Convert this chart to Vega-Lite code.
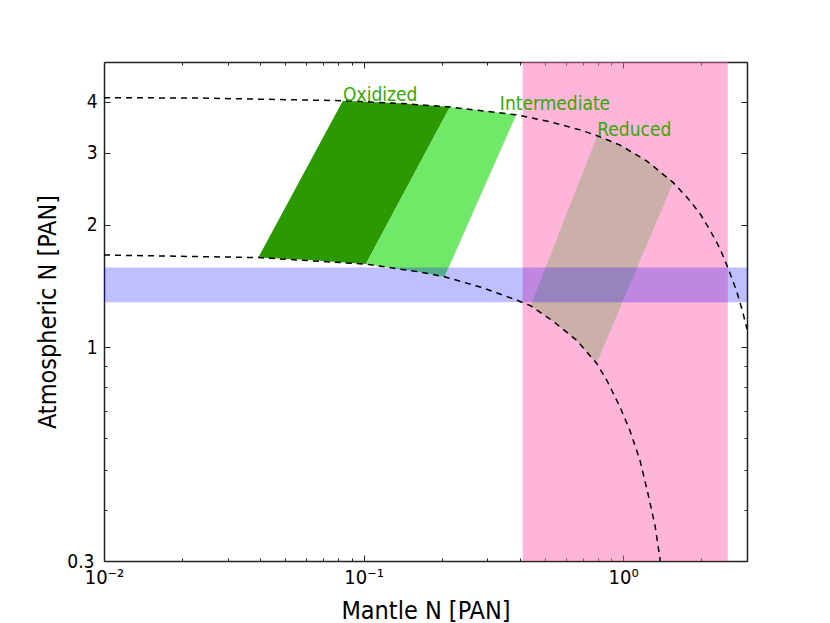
{
  "$schema": "https://vega.github.io/schema/vega-lite/v6.json",
  "autosize": "none",
  "padding": {"left": 104, "top": 62, "right": 83, "bottom": 62},
  "width": 643,
  "height": 499,
  "background": "white",
  "config": {
    "view": {"stroke": null},
    "axis": {
      "grid": false,
      "domainColor": "#222222",
      "domainWidth": 1.5,
      "tickColor": "#222222",
      "tickWidth": 1,
      "labelFont": "DejaVu Sans Condensed",
      "labelColor": "black",
      "labelFlush": false,
      "labelOverlap": false,
      "titleFont": "DejaVu Sans Condensed",
      "titleFontSize": 25,
      "titleFontWeight": "normal",
      "titleColor": "black"
    }
  },
  "datasets": {
    "bands": [
      {"band": "mantle", "x": 0.41, "x2": 2.53},
      {"band": "atmosphere", "y": 1.29, "y2": 1.57}
    ],
    "polys": [
      {"poly": "Oxidized", "i": 1, "x": 0.0393, "y": 1.66},
      {"poly": "Oxidized", "i": 2, "x": 0.0832, "y": 4.02},
      {"poly": "Oxidized", "i": 3, "x": 0.138, "y": 3.96},
      {"poly": "Oxidized", "i": 4, "x": 0.215, "y": 3.88},
      {"poly": "Oxidized", "i": 5, "x": 0.102, "y": 1.6},
      {"poly": "Oxidized", "i": 6, "x": 0.06, "y": 1.64},
      {"poly": "Intermediate", "i": 1, "x": 0.102, "y": 1.6},
      {"poly": "Intermediate", "i": 2, "x": 0.215, "y": 3.88},
      {"poly": "Intermediate", "i": 3, "x": 0.3, "y": 3.79},
      {"poly": "Intermediate", "i": 4, "x": 0.387, "y": 3.71},
      {"poly": "Intermediate", "i": 5, "x": 0.205, "y": 1.49},
      {"poly": "Intermediate", "i": 6, "x": 0.165, "y": 1.53},
      {"poly": "Reduced", "i": 1, "x": 0.44, "y": 1.265},
      {"poly": "Reduced", "i": 2, "x": 0.795, "y": 3.3},
      {"poly": "Reduced", "i": 3, "x": 0.97, "y": 3.13},
      {"poly": "Reduced", "i": 4, "x": 1.234, "y": 2.86},
      {"poly": "Reduced", "i": 5, "x": 1.56, "y": 2.54},
      {"poly": "Reduced", "i": 6, "x": 0.79, "y": 0.915},
      {"poly": "Reduced", "i": 7, "x": 0.663, "y": 1.04},
      {"poly": "Reduced", "i": 8, "x": 0.537, "y": 1.16}
    ],
    "curves": [
      {"curve": "upper", "i": 1, "x": 0.01, "y": 4.09},
      {"curve": "upper", "i": 2, "x": 0.0235, "y": 4.08},
      {"curve": "upper", "i": 3, "x": 0.0834, "y": 4.02},
      {"curve": "upper", "i": 4, "x": 0.138, "y": 3.96},
      {"curve": "upper", "i": 5, "x": 0.215, "y": 3.88},
      {"curve": "upper", "i": 6, "x": 0.39, "y": 3.71},
      {"curve": "upper", "i": 7, "x": 0.522, "y": 3.57},
      {"curve": "upper", "i": 8, "x": 0.683, "y": 3.41},
      {"curve": "upper", "i": 9, "x": 0.793, "y": 3.3},
      {"curve": "upper", "i": 10, "x": 0.973, "y": 3.13},
      {"curve": "upper", "i": 11, "x": 1.234, "y": 2.86},
      {"curve": "upper", "i": 12, "x": 1.553, "y": 2.54},
      {"curve": "upper", "i": 13, "x": 1.774, "y": 2.32},
      {"curve": "upper", "i": 14, "x": 1.974, "y": 2.13},
      {"curve": "upper", "i": 15, "x": 2.158, "y": 1.94},
      {"curve": "upper", "i": 16, "x": 2.357, "y": 1.75},
      {"curve": "upper", "i": 17, "x": 2.53, "y": 1.57},
      {"curve": "upper", "i": 18, "x": 2.74, "y": 1.37},
      {"curve": "upper", "i": 19, "x": 2.88, "y": 1.23},
      {"curve": "upper", "i": 20, "x": 3.0, "y": 1.11},
      {"curve": "lower", "i": 1, "x": 0.01, "y": 1.684},
      {"curve": "lower", "i": 2, "x": 0.0393, "y": 1.66},
      {"curve": "lower", "i": 3, "x": 0.102, "y": 1.6},
      {"curve": "lower", "i": 4, "x": 0.165, "y": 1.53},
      {"curve": "lower", "i": 5, "x": 0.205, "y": 1.49},
      {"curve": "lower", "i": 6, "x": 0.288, "y": 1.4},
      {"curve": "lower", "i": 7, "x": 0.39, "y": 1.305},
      {"curve": "lower", "i": 8, "x": 0.44, "y": 1.265},
      {"curve": "lower", "i": 9, "x": 0.537, "y": 1.16},
      {"curve": "lower", "i": 10, "x": 0.663, "y": 1.04},
      {"curve": "lower", "i": 11, "x": 0.79, "y": 0.915},
      {"curve": "lower", "i": 12, "x": 0.866, "y": 0.83},
      {"curve": "lower", "i": 13, "x": 0.973, "y": 0.714},
      {"curve": "lower", "i": 14, "x": 1.061, "y": 0.627},
      {"curve": "lower", "i": 15, "x": 1.161, "y": 0.529},
      {"curve": "lower", "i": 16, "x": 1.246, "y": 0.439},
      {"curve": "lower", "i": 17, "x": 1.326, "y": 0.367},
      {"curve": "lower", "i": 18, "x": 1.36, "y": 0.33},
      {"curve": "lower", "i": 19, "x": 1.39, "y": 0.3}
    ],
    "labels": [
      {"label": "Oxidized", "x": 0.0834, "y": 4.02},
      {"label": "Intermediate", "x": 0.335, "y": 3.81},
      {"label": "Reduced", "x": 0.795, "y": 3.3}
    ]
  },
  "resolve": {"axis": {"x": "independent", "y": "independent"}},
  "layer": [
    {
      "data": {"name": "bands"},
      "transform": [{"filter": "datum.band == 'mantle'"}],
      "mark": {"type": "rect", "color": "#ff69b4", "opacity": 0.5, "clip": true},
      "encoding": {
        "x": {
          "field": "x", "type": "quantitative",
          "scale": {"type": "log", "domain": [0.01, 3], "nice": false},
          "axis": {
            "orient": "bottom",
            "title": "Mantle N [PAN]",
            "values": [0.01, 0.02, 0.03, 0.04, 0.05, 0.06, 0.07, 0.08, 0.09, 0.1, 0.2, 0.3, 0.4, 0.5, 0.6, 0.7, 0.8, 0.9, 1, 2, 3],
            "labelExpr": "datum.value == 0.01 ? '10⁻²' : datum.value == 0.1 ? '10⁻¹' : datum.value == 1 ? '10⁰' : ''",
            "labelFontSize": 20,
            "tickSize": {"condition": {"test": "datum.value == 0.01 || datum.value == 0.1 || datum.value == 1", "value": -6}, "value": -3},
            "labelPadding": 12,
            "titlePadding": 8
          }
        },
        "x2": {"field": "x2"}
      }
    },
    {
      "data": {"name": "polys"},
      "mark": {"type": "line", "filled": true, "strokeWidth": 0, "clip": true},
      "encoding": {
        "x": {
          "field": "x", "type": "quantitative",
          "axis": {
            "orient": "top", "title": null, "labels": false,
            "values": [0.01, 0.02, 0.03, 0.04, 0.05, 0.06, 0.07, 0.08, 0.09, 0.1, 0.2, 0.3, 0.4, 0.5, 0.6, 0.7, 0.8, 0.9, 1, 2, 3],
            "tickSize": {"condition": {"test": "datum.value == 0.01 || datum.value == 0.1 || datum.value == 1", "value": -6}, "value": -3}
          }
        },
        "y": {
          "field": "y", "type": "quantitative",
          "scale": {"type": "log", "domain": [0.3, 5], "nice": false},
          "axis": {
            "orient": "left",
            "title": "Atmospheric N [PAN]",
            "values": [0.3, 0.4, 0.5, 0.6, 0.7, 0.8, 0.9, 1, 2, 3, 4],
            "labelExpr": "datum.value == 0.3 ? '0.3' : datum.value >= 1 ? toString(datum.value) : ''",
            "labelFontSize": 19,
            "tickSize": {"condition": {"test": "datum.value >= 1", "value": -6}, "value": -3},
            "labelPadding": 13,
            "titlePadding": 6
          }
        },
        "order": {"field": "i"},
        "color": {
          "field": "poly", "type": "nominal",
          "scale": {"domain": ["Oxidized", "Intermediate", "Reduced"], "range": ["#2a9a00", "#70e868", "#cbafa9"]},
          "legend": null
        }
      }
    },
    {
      "data": {"name": "bands"},
      "transform": [{"filter": "datum.band == 'atmosphere'"}],
      "mark": {"type": "rect", "color": "#0000ff", "opacity": 0.25, "clip": true},
      "encoding": {
        "y": {"field": "y", "type": "quantitative", "axis": {
            "orient": "right", "title": null, "labels": false,
            "values": [0.3, 0.4, 0.5, 0.6, 0.7, 0.8, 0.9, 1, 2, 3, 4],
            "tickSize": {"condition": {"test": "datum.value >= 1", "value": -6}, "value": -3}
          }},
        "y2": {"field": "y2"}
      }
    },
    {
      "data": {"name": "curves"},
      "mark": {"type": "line", "color": "black", "strokeWidth": 1.5, "strokeDash": [6, 5], "clip": true},
      "encoding": {
        "x": {"field": "x", "type": "quantitative", "axis": null},
        "y": {"field": "y", "type": "quantitative", "axis": null},
        "detail": {"field": "curve"},
        "order": {"field": "i"}
      }
    },
    {
      "data": {"name": "labels"},
      "mark": {"type": "text", "align": "left", "baseline": "alphabetic", "font": "DejaVu Sans Condensed", "fontSize": 19, "color": "#33a800"},
      "encoding": {
        "x": {"field": "x", "type": "quantitative", "axis": null},
        "y": {"field": "y", "type": "quantitative", "axis": null},
        "text": {"field": "label"}
      }
    }
  ]
}
